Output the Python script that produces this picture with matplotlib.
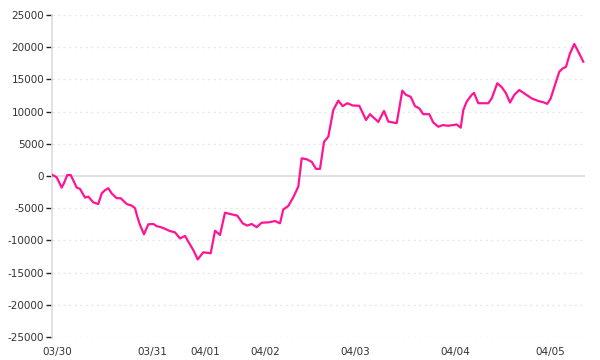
import matplotlib
matplotlib.use('Agg')
import matplotlib.pyplot as plt

# position along the session axis and the running value
t = [0, 4.7, 9.7, 12, 15.3, 18.7, 22, 24.7, 28, 33, 36.3, 41.3, 46.3, 49.7, 53, 56.3,
     59.7, 64.7, 68.7, 74.7, 79.7, 83, 85.3, 88, 92, 96.3, 101.3, 104.7, 108, 111.3,
     118, 123, 128, 133, 136.3, 141.3, 145.7, 151.3, 158.7, 163, 168, 173, 178,
     185.3, 190.7, 195.3, 199.7, 204.7, 209.7, 216.3, 223, 228, 231.3, 236.3, 241.3,
     246.3, 249.7, 254.7, 259.7, 264, 268, 272, 276.3, 281.3, 286.3, 290.7, 295.3,
     300.7, 307.3, 314, 318, 326.3, 332, 336.3, 344.7, 350.3, 354, 358.7, 363, 367.3,
     371.3, 377.3, 381.3, 386.3, 390.7, 396.3, 404.7, 408.7, 411.3, 414.7, 419.7, 422,
     426.3, 436.3, 439.7, 445.3, 449.7, 454, 458, 462.3, 467.3, 473, 479.7, 486.3,
     491.3, 495.3, 498.7, 503, 507.3, 510.7, 514, 518, 522.3, 526.3, 531.3]
pnl = [200, -200, -1800, -1100, 150, 150, -900, -1800, -2000, -3350, -3200, -4100,
       -4350, -2700, -2200, -1900, -2700, -3450, -3450, -4350, -4600, -5000, -6300,
       -7600, -9050, -7500, -7450, -7800, -7900, -8100, -8550, -8750, -9700, -9300,
       -10200, -11500, -12950, -11850, -12000, -8500, -9150, -5700, -5900, -6150,
       -7350, -7700, -7450, -7950, -7250, -7200, -7000, -7350, -5200, -4650, -3300,
       -1650, 2750, 2600, 2200, 1100, 1100, 5300, 6100, 10250, 11700, 10850, 11300,
       10950, 10900, 8700, 9600, 8400, 10100, 8450, 8200, 13250, 12600, 12300, 10850,
       10500, 9600, 9600, 8300, 7650, 7900, 7800, 8000, 7500, 10250, 11550, 12600,
       12900, 11300, 11300, 12050, 14400, 13800, 12850, 11400, 12600, 13350, 12750,
       12050, 11650, 11450, 11200, 12050, 14150, 16200, 16700, 16950, 19050, 20500,
       19300, 17750]

day_pos = [5, 100, 153, 213, 303, 403, 498.5]
day_labels = ['03/30', '03/31', '04/01', '04/02', '04/03', '04/04', '04/05']
y_ticks = [-25000, -20000, -15000, -10000, -5000, 0, 5000, 10000, 15000, 20000, 25000]

plt.rcParams['font.family'] = 'DejaVu Sans'
plt.rcParams['axes.unicode_minus'] = False

fig = plt.figure(figsize=(6, 3.6), dpi=100)
ax = fig.add_axes([52 / 600, 1 - 337 / 360, 533 / 600, 322 / 360])

# grid and zero line
for v in y_ticks:
    if v == 0:
        ax.axhline(v, color='#dddddd', lw=1.2, zorder=1)
    else:
        ax.axhline(v, color='#e8e8e8', lw=1, linestyle=(0, (1.5, 2.5)), zorder=1)

ax.plot(t, pnl, color='#ff1493', lw=1.6, zorder=3, solid_joinstyle='round')

ax.set_xlim(0, 533)
ax.set_ylim(-25000, 25000)
ax.set_yticks(y_ticks)
ax.set_yticklabels([str(v) for v in y_ticks])
ax.set_xticks(day_pos)
ax.set_xticklabels(day_labels)

for s in ['top', 'right', 'bottom']:
    ax.spines[s].set_visible(False)
ax.spines['left'].set_color('#dddddd')
ax.spines['left'].set_linewidth(1.2)

ax.tick_params(axis='y', length=4.5, width=1, color='#222222', pad=1,
               labelsize=7.5, labelcolor='#333333')
ax.tick_params(axis='x', length=0, pad=7, labelsize=7.5, labelcolor='#333333')

fig.savefig('out.png', dpi=100)
